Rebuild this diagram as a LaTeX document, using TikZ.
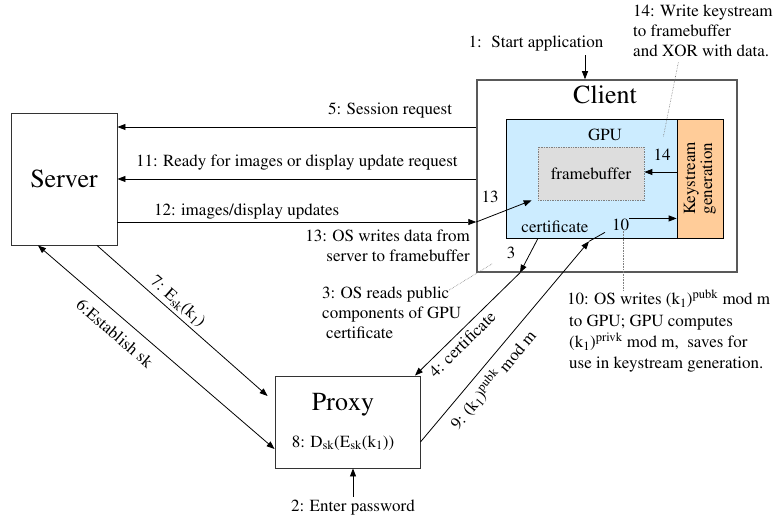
\documentclass[tikz,border=0pt]{standalone}
\usepackage[T1]{fontenc}
\usepackage{mathptmx}
\usetikzlibrary{arrows.meta}

\definecolor{gpublue}{RGB}{204,236,255}
\definecolor{ksorange}{RGB}{255,204,153}
\definecolor{fbgray}{RGB}{221,221,221}

\newcommand{\bigname}{\fontsize{26}{30}\selectfont}

\begin{document}
\begin{tikzpicture}[x=1pt,y=-1pt,
    every node/.style={font=\rmfamily\fontsize{17}{20}\selectfont},
    party/.style={shape=rectangle,draw=black!80,line width=0.9pt},
    flow/.style={-{Triangle[length=8pt,width=6pt]},line width=0.8pt},
    twoway/.style={{Triangle[length=8pt,width=6pt]}-{Triangle[length=8pt,width=6pt]},line width=0.8pt},
    noteline/.style={densely dotted,gray,line width=0.6pt},
    note/.style={inner sep=0pt,align=left}]
\useasboundingbox (0,0) rectangle (775,518);

% boxes
\node[party,minimum width=106pt,minimum height=132pt,font=\rmfamily\bigname] (server) at (64,179) {Server};
\node[party,draw=black!65,line width=1.5pt,minimum width=260pt,minimum height=192pt] (client) at (607,176) {};
\node[shape=rectangle,draw=black,fill=gpublue,line width=0.7pt,minimum width=171pt,minimum height=119pt] (gpu) at (591.5,178.5) {};
\node[shape=rectangle,draw=black,fill=ksorange,line width=0.7pt,minimum width=46pt,minimum height=119pt] (ks) at (700,178.5) {};
\node[shape=rectangle,draw=gray,densely dotted,fill=fbgray,line width=0.7pt,minimum width=106pt,minimum height=53pt] (fb) at (591,173.5) {framebuffer};
\node[party,minimum width=145pt,minimum height=92pt] (proxy) at (347.5,422) {};

% texts inside the boxes
\node[font=\rmfamily\bigname] (clientname) at (605,95) {Client};
\node (gpuname) at (605,135) {GPU};
\node[rotate=90,align=center,font=\rmfamily\fontsize{17}{17}\selectfont] (kstext) at (ks) {Keystream\\generation};
\node (n14) at (662,155) {14};
\node (n13) at (490,197) {13};
\node (certlbl) at (555,227) {certificate};
\node[inner sep=0pt] (n10) at (620.5,224.5) {10};
\node (n3) at (511,253) {3};
\node[font=\rmfamily\bigname] (proxyname) at (343,405) {Proxy};
\node (decrypt) at (343,443) {8: D\textsubscript{sk}(E\textsubscript{sk}(k\textsubscript{1}))};

% outside labels
\node (l1) at (536,44) {1:~ Start application};
\node (l2) at (353,508) {2: Enter password};
\node[note,anchor=north west] (note14) at (633,5) {14: Write keystream\\to framebuffer\\and XOR with data.};
\node[note,align=right,anchor=north east] (note13) at (470,230) {13: OS writes data from\\server to framebuffer};
\node[note,anchor=north west] (note3) at (322,287) {3: OS reads public\\components of GPU\\\hspace{4pt}certificate};
\node[note,anchor=north west,font=\rmfamily\fontsize{17}{21.3}\selectfont] (note10) at (567,290) {10: OS writes (k\textsubscript{1})\textsuperscript{pubk} mod m\\\hspace{2pt}to GPU; GPU computes\\\hspace{2pt}(k\textsubscript{1})\textsuperscript{privk} mod m,~ saves for\\\hspace{2pt}use in keystream generation.};

% messages between server and client
\coordinate (c1) at ([xshift=-22pt]client.north);
\coordinate (c5) at ([yshift=49pt]client.west);
\coordinate (c11) at ([yshift=-3pt]client.west);
\coordinate (c12) at ([yshift=-46pt]client.west);
\draw[flow] (c1 |- l1.south) -- (c1);
\draw[flow] (c5) -- (c5 -| server.east) node[pos=0.24,above=5pt] {5: Session request};
\draw[flow] (c11) -- (c11 -| server.east) node[pos=0.5,above=5pt] {11: Ready for images or display update request};
\draw[flow] (c12 -| server.east) -- (c12) node[pos=0.36,above=-1pt] {12: images/display updates};

% inside the client
\draw[flow] (c12) -- ([xshift=-6pt]fb.south west);
\draw[flow] ([yshift=6.5pt]ks.west) -- ([yshift=6.5pt]ks.west -| fb.east);
\draw[flow] (n10.north east) -- (n10.north east -| ks.west);

% certificate and key to the proxy
\coordinate (c3) at ([xshift=-87pt]client.south);
\coordinate (t9) at ([xshift=-2.5pt,yshift=-3pt]gpu.south);
\coordinate (e9) at ([xshift=13.5pt,yshift=6pt]gpu.south);
\draw[flow] ([xshift=-53.5pt]gpu.south) -- (c3);
\draw[flow] (c3) -- ([xshift=67.5pt]proxy.north) node[sloped,below=1pt,pos=0.62] {4: certificate};
\draw[flow] ([yshift=-20pt]proxy.east) -- (t9) node[sloped,below=3pt,pos=0.36] {9: (k\textsubscript{1})\textsuperscript{pubk} mod m};
\draw[line width=0.8pt] (t9) -- (e9);

% server and proxy
\draw[twoway] ([xshift=-26pt]server.south) -- ([yshift=-27pt]proxy.west) node[sloped,below=7pt,pos=0.37] {6:Establish sk};
\draw[flow] ([xshift=33pt]server.south) -- ([xshift=-7pt,yshift=26pt]proxy.west) node[sloped,above,pos=0.43] {7: E\textsubscript{sk}(k\textsubscript{1})};
\draw[flow] (l2.north) -- (l2.north |- proxy.south);

% dotted pointers from the notes
\draw[noteline] ([xshift=-24.5pt,yshift=-5pt]note14.south) -- ([xshift=-14pt,yshift=-18pt]gpu.north east);
\draw[noteline] ([xshift=3pt]n10.south) -- ([xshift=3pt]n10.south |- note10.north);
\draw[noteline] ([xshift=-12pt,yshift=-3pt]note3.north east) -- ([xshift=16pt,yshift=9pt]client.south west);
\end{tikzpicture}
\end{document}
